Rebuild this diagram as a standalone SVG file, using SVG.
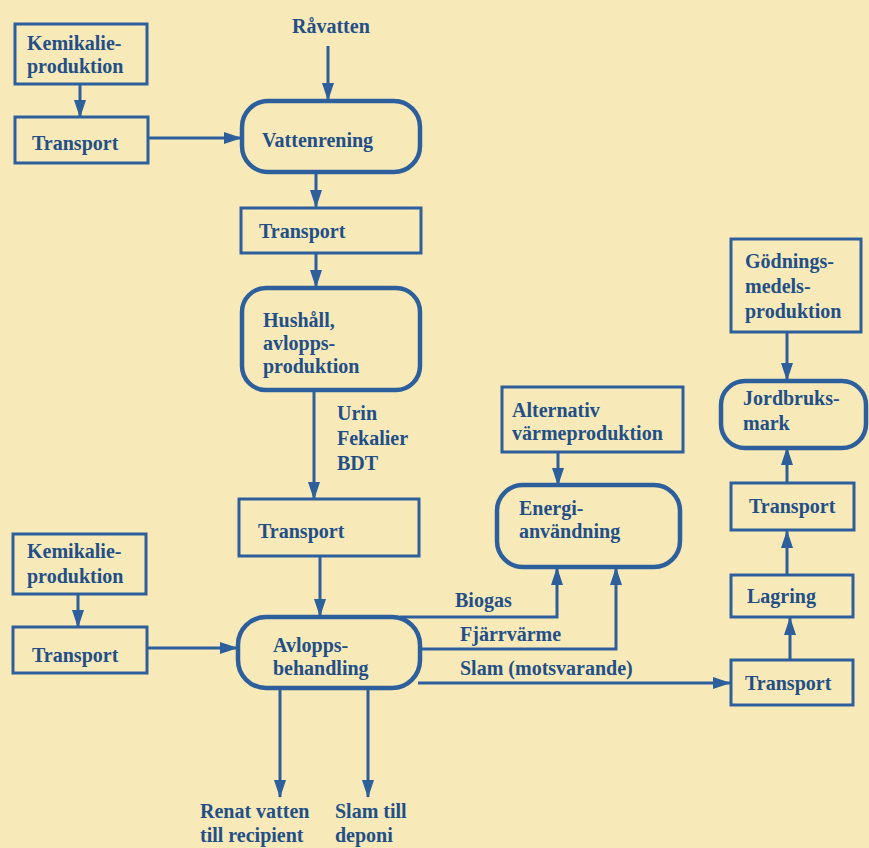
<svg xmlns="http://www.w3.org/2000/svg" width="869" height="848" viewBox="0 0 869 848">
<style>
.bg{fill:#f8eab8}
.box{fill:none;stroke:#2c5f9c;stroke-width:3}
.rbox{fill:none;stroke:#2c5f9c;stroke-width:4.5}
.ln{fill:none;stroke:#2c5f9c;stroke-width:3}
text{font-family:"Liberation Serif","Times New Roman","DejaVu Serif",serif;font-weight:bold;font-size:20px;fill:#224f88}
</style>
<defs>
<marker id="ah" viewBox="0 0 18 12" refX="17" refY="6" markerUnits="userSpaceOnUse" markerWidth="18" markerHeight="12" orient="auto">
<path d="M0,0 L18,6 L0,12 Z" fill="#2c5f9c"/>
</marker>
</defs>
<rect class="bg" x="0" y="0" width="869" height="848"/>

<g id="connectors">
<line class="ln" x1="80" y1="84" x2="80" y2="117" marker-end="url(#ah)"/>
<line class="ln" x1="148" y1="138" x2="241" y2="138" marker-end="url(#ah)"/>
<line class="ln" x1="328" y1="46" x2="328" y2="100" marker-end="url(#ah)"/>
<line class="ln" x1="316" y1="172" x2="316" y2="207" marker-end="url(#ah)"/>
<line class="ln" x1="316" y1="253" x2="316" y2="287" marker-end="url(#ah)"/>
<line class="ln" x1="314" y1="391" x2="314" y2="499" marker-end="url(#ah)"/>
<line class="ln" x1="320" y1="556" x2="320" y2="616" marker-end="url(#ah)"/>
<line class="ln" x1="78" y1="594" x2="78" y2="627" marker-end="url(#ah)"/>
<line class="ln" x1="147" y1="648" x2="237" y2="648" marker-end="url(#ah)"/>
<line class="ln" x1="280" y1="688" x2="280" y2="797" marker-end="url(#ah)"/>
<line class="ln" x1="368" y1="688" x2="368" y2="797" marker-end="url(#ah)"/>
<polyline class="ln" points="400,617 557,617 557,568" marker-end="url(#ah)"/>
<polyline class="ln" points="418,649 616,649 616,568" marker-end="url(#ah)"/>
<line class="ln" x1="418" y1="683" x2="730" y2="683" marker-end="url(#ah)"/>
<line class="ln" x1="558" y1="452" x2="558" y2="485" marker-end="url(#ah)"/>
<line class="ln" x1="790" y1="660" x2="790" y2="618" marker-end="url(#ah)"/>
<line class="ln" x1="787" y1="575" x2="787" y2="531" marker-end="url(#ah)"/>
<line class="ln" x1="787" y1="483" x2="787" y2="448" marker-end="url(#ah)"/>
<line class="ln" x1="787" y1="332" x2="787" y2="380" marker-end="url(#ah)"/>
</g>

<g id="kemikalie1"><rect class="box" x="15" y="24" width="132" height="60"/><text x="27" y="50">Kemikalie-</text><text x="27" y="73">produktion</text></g>
<g id="transport1"><rect class="box" x="15" y="117" width="133" height="46"/><text x="32" y="150">Transport</text></g>
<g id="ravatten"><text x="292" y="33">Råvatten</text></g>
<g id="vattenrening"><rect class="rbox" x="242" y="101" width="178" height="71" rx="26"/><text x="262" y="147">Vattenrening</text></g>
<g id="transport2"><rect class="box" x="241" y="208" width="180" height="45"/><text x="259" y="238">Transport</text></g>
<g id="hushall"><rect class="rbox" x="242" y="288" width="178" height="102" rx="24"/><text x="263" y="327">Hushåll,</text><text x="263" y="350">avlopps-</text><text x="263" y="373">produktion</text></g>
<g id="fraktioner"><text x="337" y="420">Urin</text><text x="337" y="445">Fekalier</text><text x="337" y="470">BDT</text></g>
<g id="transport3"><rect class="box" x="239" y="499" width="180" height="57"/><text x="258" y="538">Transport</text></g>
<g id="kemikalie2"><rect class="box" x="13" y="534" width="133" height="60"/><text x="27" y="558">Kemikalie-</text><text x="27" y="583">produktion</text></g>
<g id="transport4"><rect class="box" x="13" y="627" width="134" height="46"/><text x="32" y="662">Transport</text></g>
<g id="avlopp"><rect class="rbox" x="238" y="617" width="182" height="71" rx="28"/><text x="273" y="652">Avlopps-</text><text x="273" y="675">behandling</text></g>
<g id="renat"><text x="200" y="818">Renat vatten</text><text x="200" y="842">till recipient</text></g>
<g id="slamdeponi"><text x="335" y="818">Slam till</text><text x="335" y="842">deponi</text></g>
<g id="flodeslabels"><text x="455" y="607">Biogas</text><text x="460" y="641">Fjärrvärme</text><text x="460" y="675">Slam (motsvarande)</text></g>
<g id="alternativ"><rect class="box" x="502" y="387" width="181" height="65"/><text x="512" y="417">Alternativ</text><text x="512" y="440">värmeproduktion</text></g>
<g id="energi"><rect class="rbox" x="497" y="485" width="183" height="82" rx="26"/><text x="519" y="515">Energi-</text><text x="519" y="538">användning</text></g>
<g id="godning"><rect class="box" x="731" y="239" width="130" height="93"/><text x="745" y="268">Gödnings-</text><text x="745" y="293">medels-</text><text x="745" y="318">produktion</text></g>
<g id="jordbruk"><rect class="rbox" x="721" y="381" width="145" height="67" rx="24"/><text x="743" y="405">Jordbruks-</text><text x="743" y="430">mark</text></g>
<g id="transport5"><rect class="box" x="731" y="483" width="123" height="47"/><text x="749" y="513">Transport</text></g>
<g id="lagring"><rect class="box" x="731" y="575" width="122" height="42"/><text x="747" y="603">Lagring</text></g>
<g id="transport6"><rect class="box" x="731" y="660" width="122" height="45"/><text x="745" y="690">Transport</text></g>
</svg>
